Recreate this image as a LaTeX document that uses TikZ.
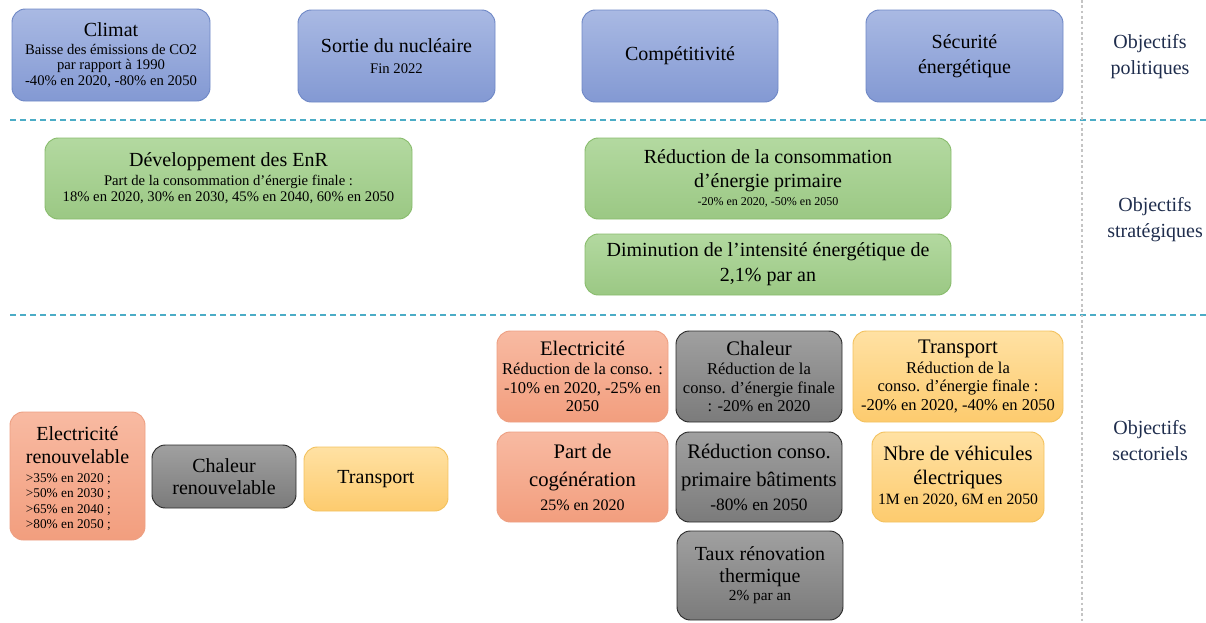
\documentclass[tikz,border=0pt]{standalone}
\usepackage{fontspec}
\setmainfont{Liberation Serif}
\usetikzlibrary{positioning,calc}

\definecolor{polTop}{HTML}{A9B9E3}
\definecolor{polBot}{HTML}{8399D3}
\definecolor{polLine}{HTML}{6F88C6}
\definecolor{strTop}{HTML}{B3D9A0}
\definecolor{strBot}{HTML}{9BC884}
\definecolor{strLine}{HTML}{89BC6D}
\definecolor{elTop}{HTML}{F8BAA2}
\definecolor{elBot}{HTML}{F29E7E}
\definecolor{elLine}{HTML}{EDA083}
\definecolor{chTop}{HTML}{A0A0A0}
\definecolor{chBot}{HTML}{7B7B7B}
\definecolor{chLine}{HTML}{2B2B2B}
\definecolor{trTop}{HTML}{FFE1A3}
\definecolor{trBot}{HTML}{FDCB6E}
\definecolor{trLine}{HTML}{F3C25E}
\definecolor{sepLine}{HTML}{4BACC6}
\definecolor{vLine}{HTML}{C4C4C4}
\definecolor{lvlText}{HTML}{1F2D4D}

\newcommand{\fsz}[2]{\fontsize{#1}{#2}\selectfont}

\begin{document}
\begin{tikzpicture}[x=0.75pt, y=-0.75pt,
    boxsize/.style 2 args={minimum width=#1*0.75pt, minimum height=#2*0.75pt},
    objbox/.style={rounded corners=10pt, align=center, inner sep=2pt, text=black, line width=0.7pt, font=\fsz{15}{17}},
    polbox/.style={objbox, draw=polLine, top color=polTop, bottom color=polBot},
    strbox/.style={objbox, draw=strLine, top color=strTop, bottom color=strBot},
    elbox/.style={objbox, draw=elLine, top color=elTop, bottom color=elBot},
    chbox/.style={objbox, draw=chLine, top color=chTop, bottom color=chBot},
    trbox/.style={objbox, draw=trLine, top color=trTop, bottom color=trBot},
    lvl/.style={align=center, text=lvlText, font=\fsz{15}{19.5}},
    sep/.style={sepLine, line width=1.1pt, dash pattern=on 4.5pt off 3pt}]
    \useasboundingbox (0,0) rectangle (1206,622);
    %
    % separators
    \coordinate (hAl) at (10,120);
    \coordinate (hAr) at (1206,120);
    \coordinate (hBl) at (10,315);
    \coordinate (hBr) at (1206,315);
    \coordinate (vTop) at (1082,0);
    \coordinate (vBot) at (1082,622);
    \draw[sep] (hAl) -- (hAr);
    \draw[sep] (hBl) -- (hBr);
    \draw[vLine, line width=0.8pt, dash pattern=on 2pt off 2pt] (vTop) -- (vBot);
    %
    % objectifs politiques
    \node[polbox, boxsize={198}{92}, font=\fsz{11}{11.6}] (nClimat) at (111,55)
        {{\fsz{15}{15}Climat}\\[1.5pt] Baisse des émissions de CO2\\ par rapport à 1990\\ -40\% en 2020, -80\% en 2050};
    \node[polbox, boxsize={197}{92}, font=\fsz{11}{15.5}] (nSortie) at (396.5,56)
        {{\fsz{15}{15}Sortie du nucléaire}\\ Fin 2022};
    \node[polbox, boxsize={196}{92}] (nCompet) at (680,56) {Compétitivité};
    \node[polbox, boxsize={197}{92}, font=\fsz{15}{19}] (nSecur) at (964.5,56) {Sécurité\\ énergétique};
    %
    % objectifs strategiques
    \node[strbox, boxsize={367}{81}, font=\fsz{11}{12}] (nEnR) at (228.5,178.5)
        {{\fsz{15}{15}Développement des EnR}\\[2pt] Part de la consommation d’énergie finale :\\ 18\% en 2020, 30\% en 2030, 45\% en 2040, 60\% en 2050};
    \node[strbox, boxsize={366}{81}, font=\fsz{15}{18}] (nRedPrim) at (768,178.5)
        {Réduction de la consommation\\ d’énergie primaire\\[-5pt] {\fsz{9}{9}-20\% en 2020, -50\% en 2050}};
    \node[strbox, boxsize={366}{61}, font=\fsz{15}{18.5}] (nIntens) at (768,264.5)
        {Diminution de l’intensité énergétique de\\ 2,1\% par an};
    %
    % objectifs sectoriels
    \node[elbox, boxsize={171}{91}, font=\fsz{12.4}{13.9}] (nElec) at (582.5,376.5)
        {{\fsz{15.5}{15.5}Electricité}\\[0.5pt] Réduction de la conso. :\\ -10\% en 2020, -25\% en\\ 2050};
    \node[chbox, boxsize={166}{91}, font=\fsz{12.4}{13.9}] (nChal) at (759,376.5)
        {{\fsz{15.5}{15.5}Chaleur}\\[0.5pt] Réduction de la\\ conso. d’énergie finale\\ : -20\% en 2020};
    \node[trbox, boxsize={210}{91}, font=\fsz{12.4}{13.9}] (nTrans) at (958,376.5)
        {{\fsz{15.5}{15.5}Transport}\\[0.5pt] Réduction de la\\ conso. d’énergie finale :\\ -20\% en 2020, -40\% en 2050};
    \node[elbox, boxsize={171}{90}, font=\fsz{15.5}{21}] (nCogen) at (582.5,477)
        {Part de\\ cogénération\\[-3pt] {\fsz{12}{12}25\% en 2020}};
    \node[chbox, boxsize={166}{90}, font=\fsz{15.5}{21}] (nBat) at (759,477)
        {Réduction conso.\\ primaire bâtiments\\[-3pt] {\fsz{13}{13}-80\% en 2050}};
    \node[trbox, boxsize={172}{90}, font=\fsz{15.5}{18}] (nVehic) at (958,477)
        {Nbre de véhicules\\ électriques\\[-3pt] {\fsz{11.8}{11.8}1M en 2020, 6M en 2050}};
    \node[chbox, boxsize={166}{89}, font=\fsz{15}{16.5}] (nRenov) at (760,575.5)
        {Taux rénovation\\ thermique\\[-3pt] {\fsz{11.5}{11.5}2\% par an}};
    %
    \node[elbox, boxsize={135}{128}, font=\fsz{10}{11.6}, text height=45pt, text depth=34pt] (nElecRen) at (77.5,476)
        {\begin{tabular}{@{}l@{}}
         \multicolumn{1}{@{}c@{}}{\fsz{15}{15}Electricité}\\[3pt]
         \multicolumn{1}{@{}c@{}}{\fsz{15}{15}renouvelable}\\[2.5pt]
         >35\% en 2020 ;\\ >50\% en 2030 ;\\ >65\% en 2040 ;\\ >80\% en 2050 ;
         \end{tabular}};
    \node[chbox, boxsize={144}{63}, font=\fsz{15}{17}] (nChalRen) at (224,476.5) {Chaleur\\ renouvelable};
    \node[trbox, boxsize={144}{64}] (nTransRen) at (376,479) {Transport};
    %
    % niveaux
    \node[lvl] (lPol) at (1150,57) {Objectifs\\ politiques};
    \node[lvl] (lStr) at (1155,220) {Objectifs\\ stratégiques};
    \node[lvl] (lSec) at (1150,441) {Objectifs\\ sectoriels};
\end{tikzpicture}
\end{document}
